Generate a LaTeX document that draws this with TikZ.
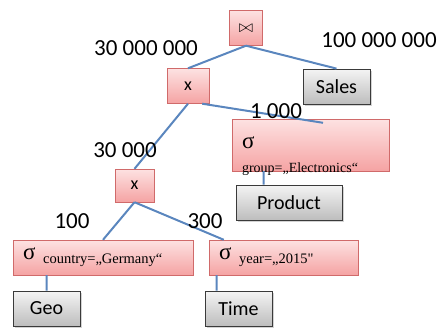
\documentclass[tikz,border=0pt]{standalone}
\usepackage{fontspec}
\setsansfont{Carlito}
\newfontfamily\selfont{Liberation Serif}
\usetikzlibrary{positioning, shadows}
\definecolor{oplight}{HTML}{FDE2E2}
\definecolor{opdark}{HTML}{F5A3A3}
\definecolor{opline}{HTML}{D06A6A}
\definecolor{rellight}{HTML}{F4F4F4}
\definecolor{reldark}{HTML}{BDBDBD}
\definecolor{relline}{HTML}{3A3A3A}
\definecolor{linkblue}{HTML}{5A86BE}
\tikzset{
	op/.style={draw=opline, top color=oplight, bottom color=opdark, inner sep=0pt,
		font=\sffamily\fontsize{18}{20}\selectfont},
	sel/.style={op, font=\selfont\fontsize{23}{24}\selectfont, align=left,
		inner xsep=10pt, anchor=center},
	rel/.style={draw=relline, thick, top color=rellight, bottom color=reldark,
		drop shadow={shadow xshift=1.5pt, shadow yshift=-1.5pt, opacity=.35},
		minimum width=67pt, minimum height=35pt, inner sep=0pt,
		font=\sffamily\fontsize{20}{24}\selectfont},
	card/.style={font=\sffamily\fontsize{23}{26}\selectfont},
	link/.style={draw=linkblue, line width=2pt}
}
\newcommand{\selsub}[1]{\raisebox{-4pt}{\fontsize{14.5}{16}\selectfont #1}}

\begin{document}
\begin{tikzpicture}[x=1pt, y=-1pt]
	\useasboundingbox (0,0) rectangle (438,327);
	
	% operators
	\node[op, minimum width=33pt, minimum height=35pt] (join) at (246,28) {\fontsize{19}{20}\selectfont$\bowtie$};
	\node[op, minimum width=42pt, minimum height=35pt] (cross1) at (188,86) {x};
	\node[op, minimum width=39pt, minimum height=33pt] (cross2) at (134.5,185.5) {x};
	\node[sel, minimum width=157pt, minimum height=52pt, text width=137pt] (selgroup) at (310.5,145)
		{\raisebox{-17pt}[0pt][0pt]{\begin{tabular}{@{}l@{}}σ\\{\fontsize{14}{15}\selectfont group=„Electronics“}\end{tabular}}};
	\node[sel, minimum width=180pt, minimum height=35pt, text width=160pt] (selcountry) at (103,257.5)
		{σ \selsub{country=„Germany“}};
	\node[sel, minimum width=149pt, minimum height=35pt, text width=129pt] (selyear) at (283.5,257.5)
		{σ \selsub{year=„2015"}};
	
	% relations
	\node[rel] (sales) at (336.5,86.5) {Sales};
	\node[rel, minimum width=106pt] (product) at (289,202.5) {Product};
	\node[rel] (geo) at (46.5,308.5) {Geo};
	\node[rel] (time) at (238.5,308.5) {Time};
	
	% connectors
	\coordinate (grouphit) at ([xshift=12.5pt, yshift=-4pt]selgroup.north);
	\coordinate (productup) at ([xshift=28pt]product.north west);
	\coordinate (yearup) at ([xshift=15pt]selyear.north west);
	\coordinate (timeup) at ([xshift=12pt]time.north west);
	\path[link]
		(join.south) -- (cross1.north)
		(join.south) -- (sales.north)
		([xshift=-7pt]cross1.south east) -- (grouphit)
		(cross1.south) -- (cross2.north)
		(cross2.south) -- (selcountry.north)
		(cross2.south) -- (yearup)
		(productup) -- (productup |- selgroup.south)
		(geo.north) -- (geo.north |- selcountry.south)
		(timeup) -- (timeup |- selyear.south);
	
	% cardinalities
	\node[card] (cjoin) at (146,48) {30 000 000};
	\node[card] (csales) at (379,40) {100 000 000};
	\node[card] (cgroup) at (276,111) {1 000};
	\node[card] (ccross) at (125,150) {30 000};
	\node[card] (ccountry) at (72,221) {100};
	\node[card] (cyear) at (205,221) {300};
\end{tikzpicture}
\end{document}
